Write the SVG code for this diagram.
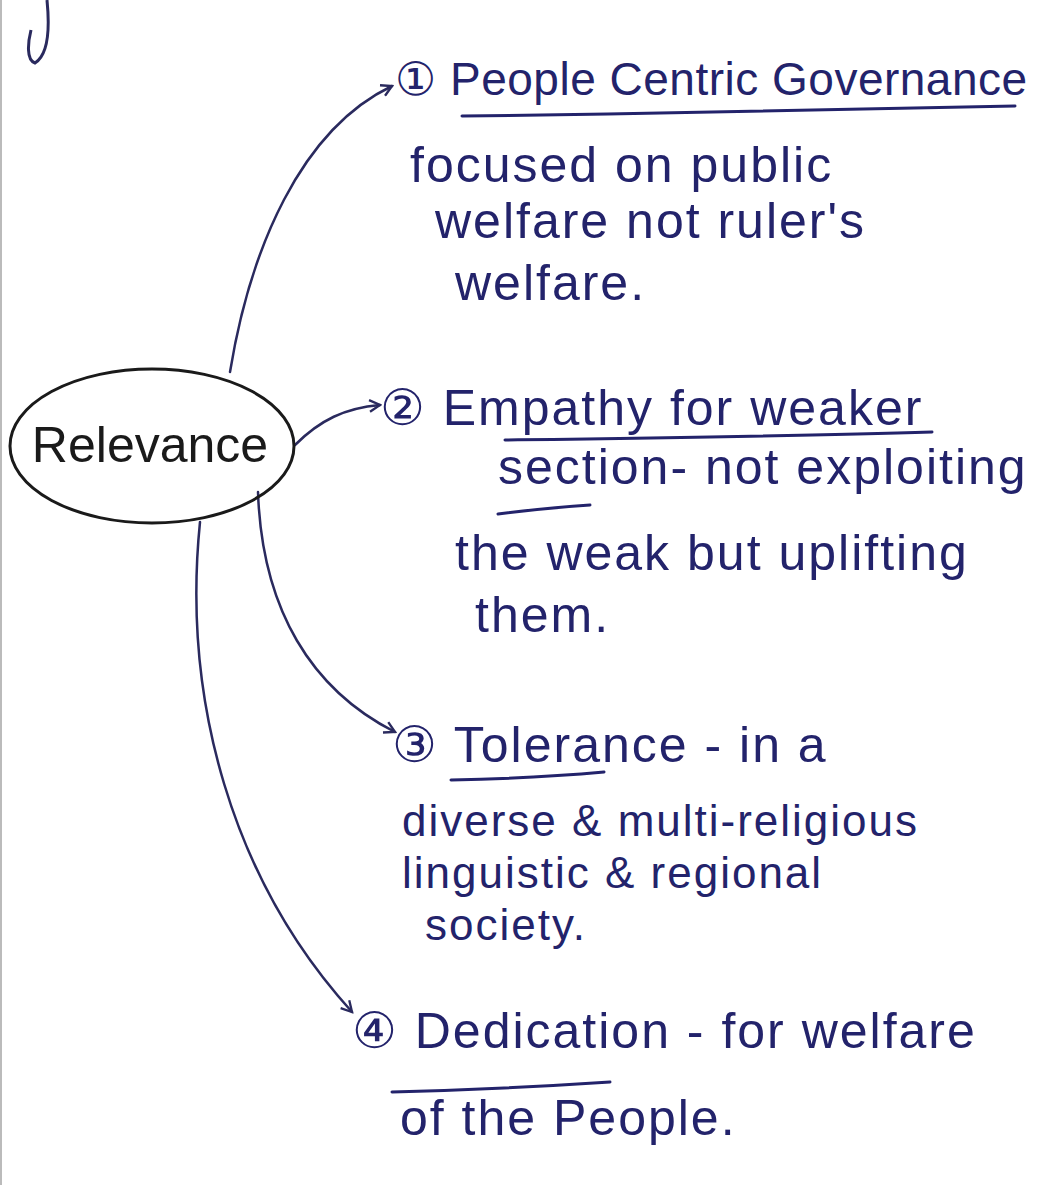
<svg xmlns="http://www.w3.org/2000/svg" width="1043" height="1185" viewBox="0 0 1043 1185">
<defs>
<style>
.ink{font-family:"Liberation Sans","DejaVu Sans",sans-serif;fill:#23236b;font-size:50px;letter-spacing:2px}
.sm{font-size:44px}
.ul{fill:none;stroke:#23236b;stroke-width:3;stroke-linecap:round}
.conn{fill:none;stroke:#2a2a5e;stroke-width:2.5;stroke-linecap:round}
</style>
<marker id="ah" viewBox="0 0 12 12" refX="10" refY="6" markerWidth="14" markerHeight="14" markerUnits="userSpaceOnUse" orient="auto">
<path d="M1 1 L10 6 L1 11" fill="none" stroke="#2a2a5e" stroke-width="2"/>
</marker>
</defs>
<rect width="1043" height="1185" fill="#ffffff"/>
<line x1="1" y1="0" x2="1" y2="1185" stroke="#bbbbbb" stroke-width="2"/>
<path d="M47 0 C50 30 48 55 35 63 C26 60 28 42 31 30" fill="none" stroke="#2a2a5e" stroke-width="3"/>

<g id="connectors">
<path class="conn" d="M230 372 C250 250 300 130 392 86" marker-end="url(#ah)"/>
<path class="conn" d="M295 445 C320 420 345 408 380 405" marker-end="url(#ah)"/>
<path class="conn" d="M258 492 C262 610 312 690 395 732" marker-end="url(#ah)"/>
<path class="conn" d="M200 522 C182 700 232 880 352 1012" marker-end="url(#ah)"/>
</g>

<g id="relevance">
<ellipse cx="152" cy="446" rx="142" ry="77" fill="none" stroke="#1a1a1a" stroke-width="3"/>
<text x="150" y="462" text-anchor="middle" font-family="Liberation Sans, DejaVu Sans, sans-serif" font-size="50" fill="#1a1a1a">Relevance</text>
</g>

<g id="item1">
<text class="ink" x="395" y="95" style="font-size:46px;letter-spacing:0.5px">① People Centric Governance</text>
<path class="ul" d="M462 116 C650 114 850 110 1015 106"/>
<text class="ink" x="410" y="182">focused on public</text>
<text class="ink" x="435" y="238">welfare not ruler's</text>
<text class="ink" x="455" y="300">welfare.</text>
</g>

<g id="item2">
<text class="ink" x="380" y="425">② Empathy for weaker</text>
<path class="ul" d="M505 440 C650 438 800 436 932 432"/>
<text class="ink" x="498" y="484">section- not exploiting</text>
<path class="ul" d="M498 514 C530 510 560 507 590 505"/>
<text class="ink" x="455" y="570">the weak but uplifting</text>
<text class="ink" x="475" y="632">them.</text>
</g>

<g id="item3">
<text class="ink" x="392" y="762">③ Tolerance - in a</text>
<path class="ul" d="M451 780 C500 779 560 776 604 772"/>
<text class="ink sm" x="402" y="836">diverse &amp; multi-religious</text>
<text class="ink sm" x="402" y="888">linguistic &amp; regional</text>
<text class="ink sm" x="425" y="940">society.</text>
</g>

<g id="item4">
<text class="ink" x="352" y="1048">④ Dedication - for welfare</text>
<path class="ul" d="M392 1092 C470 1090 550 1086 610 1082"/>
<text class="ink" x="400" y="1135">of the People.</text>
</g>
</svg>
